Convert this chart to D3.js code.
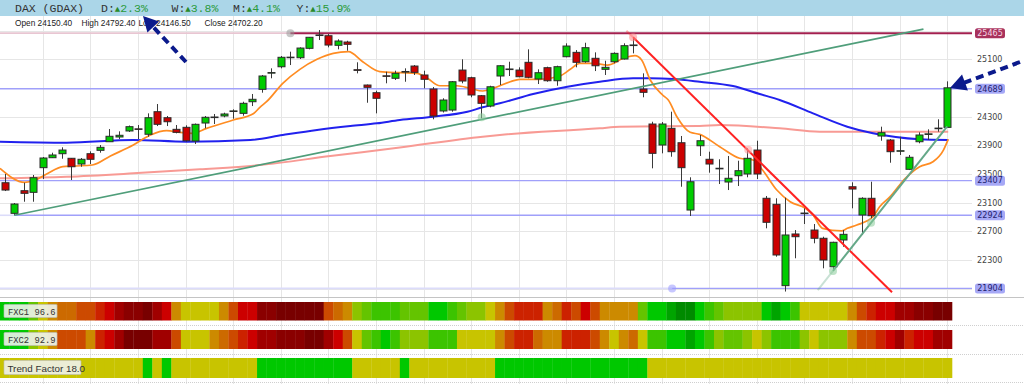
<!DOCTYPE html>
<html>
<head>
<meta charset="utf-8">
<script src="https://cdn.jsdelivr.net/npm/d3@7/dist/d3.min.js"></script>
<style>
  body { margin: 0; background: #fff; }
  svg { display: block; font-family: "Liberation Sans", Arial, sans-serif; }
  .grid-line { stroke: #e6e6e6; stroke-width: 1; shape-rendering: crispEdges; }
  .y-axis text { font-family: "DejaVu Sans", sans-serif; font-size: 8px; fill: #444; }
  .mono { font-family: "Liberation Mono", "DejaVu Sans Mono", monospace; }
</style>
</head>
<body>
<svg id="chart" width="1024" height="384"></svg>
<script>
// Daily candles, oldest first
const opens = [23378,22951,23267,23244,23588,23727,23783,23719,23639,23783,
  23830,23950,24016,24100,24130,24054,24369,24285,24123,24151,
  23960,24211,24290,24309,24375,24346,24508,24681,24910,24996,
  25125,25122,25253,25440,25429,25295,25341,24955,24741,24634,
  24870,24835,24925,25006,24881,24685,24379,24392,24950,24843,
  24592,24448,24867,24960,24950,25058,24825,24983,24801,25136,
  25197,25066,25114,24960,25066,25104,25295,24685,24197,23904,
  24137,23936,22997,23894,23705,23575,23388,23476,23500,23834,
  23161,23077,21942,22663,22950,22718,22603,22206,22579,23322,
  22928,23161,24030,23974,23820,23565,23950,24055,24135,24150.4];
const highs = [23500,23095,23378,23486,23737,23797,23872,23723,23723,23816,
  23904,24127,24095,24176,24183,24346,24476,24309,24183,24179,
  24204,24309,24337,24355,24402,24508,24616,24881,24974,25146,
  25206,25267,25410,25508,25453,25379,25359,25058,24748,24662,
  24927,24941,24974,25020,24941,24713,24556,24797,25100,24857,
  24602,24731,25020,25066,24988,25239,24960,24997,25011,25323,
  25229,25331,25197,25080,25197,25323,25407,24904,24229,24225,
  24369,24030,23454,24044,23811,23705,23751,23685,23858,23964,
  23193,23161,23169,22718,23021,22802,22625,22555,22718,23384,
  23175,23392,24160,23988,24020,23765,24081,24123,24263,24792.4];
const lows = [23262,22924,23113,23113,23430,23723,23713,23416,23601,23639,
  23797,23950,23988,24086,23988,24020,24169,24169,24067,23950,
  23918,24137,24197,24291,24271,24313,24448,24634,24835,24974,
  25020,25104,25239,25369,25267,25239,25220,24904,24494,24346,
  24765,24811,24787,24881,24695,24263,24358,24369,24765,24570,
  24277,24430,24741,24867,24849,24835,24755,24787,24731,25128,
  24988,25052,24936,24881,25044,25097,25183,24570,23579,23788,
  23741,23322,22914,23751,23518,23360,23276,23332,23454,23430,
  22742,22346,21860,22324,22802,22533,22184,22147,22485,23021,
  22649,22882,23964,23657,23765,23555,23928,23974,24090,24146.5];
const closes = [23276,23081,23230,23448,23723,23765,23834,23601,23705,23705,
  23872,24026,24040,24160,24125,24285,24193,24229,24081,23964,
  24193,24291,24295,24337,24380,24486,24542,24867,24915,25128,
  25130,25257,25407,25435,25299,25355,25309,24945,24709,24556,
  24865,24904,24930,24918,24821,24309,24532,24787,24797,24602,
  24486,24717,25010,24965,24857,24849,24913,24801,24997,25285,
  25058,25262,25010,24988,25183,25290,25300,24639,23788,24197,
  23811,23588,23392,23964,23639,23580,23440,23546,23719,23500,
  22826,22370,22649,22625,22955,22603,22300,22547,22658,23290,
  23161,22918,24076,23811,23825,23733,24044,24060,24140,24702.2];

// Moving averages (candle index, price)
const fastAt = [-0.5,2.1,3.2,4.4,6.1,7.2,9.2,11.1,13.5,15.3,17,18.4,19.7,21.2,24,26.1,26.8,27.5,29.2,31,
  32.8,34.5,36.1,37.6,39.4,41.5,43.3,44.4,45.7,47.5,48.9,50.2,51.3,53.1,54.1,56.2,58.3,59.4,60.4,61.8,
  63.3,65,66.2,66.9,67.8,69.1,69.7,70.6,72,73,75.1,77.2,78.6,79.6,81.1,82.5,84.1,84.9,85.9,87.9,
  88.5,89.5,91.2,91.9,93,94.6,96.1,97.5,98.6,99.1];
const fastMa = [23579,23384,23416,23500,23602,23611,23625,23751,23904,24044,24104,24081,24067,24137,24253,24340,24430,24508,24765,24960,
  25100,25183,25206,25066,24927,24913,24904,24835,24731,24731,24695,24658,24695,24787,24821,24821,24867,24960,25044,25044,
  25020,25114,25150,25090,24811,24602,24532,24299,24081,24053,23880,23719,23695,23555,23276,23113,23021,22928,22742,22705,
  22742,22788,22904,23044,23183,23440,23602,23671,23834,23984];
const slowAt = [-0.5,6.5,13.5,19.1,25.8,29.2,32.8,36.3,39.1,41.5,45,48.6,50.2,52,55.5,59.1,62.5,66,67.8,70.2,
  73,76.5,79.3,81.4,84.9,88.5,91.2,96.1,99.1];
const slowMa = [23950,23936,23974,23950,23974,24044,24114,24169,24207,24253,24299,24369,24430,24486,24616,24718,24787,24835,24835,24825,
  24787,24727,24616,24532,24346,24160,24067,23984,23974];
const longAt = [-0.5,6.5,13.5,20.5,26.8,34.2,41.5,50.2,52,62.5,64.6,73,75.1,81.4,85.6,91.2,99.1];
const longMa = [23440,23462,23509,23565,23625,23750,23870,24020,24044,24137,24160,24169,24183,24137,24090,24090,24090];

// Drawn trend lines (candle index, price)
const trendUpAt = [1, 96.5];
const trendUp = [22924, 25522];
const trendDownAt = [65.3, 66, 93.2];
const trendDown = [25499, 25407, 21850];
const trendUp2At = [85.4, 87, 99];
const trendUp2 = [21880, 22147, 24163];

// Horizontal levels and the candle where each one starts
const levelPrices = [25465, 24689, 23407, 22924, 21904];
const levelFrom = [30, -0.5, -0.5, 1, 70.1];

// Anchor dots on the drawn lines
const pivotAt = [30, 66, 78.1, 87, 91, 50.1, 70.1];
const pivotVal = [25465, 25407, 23838, 22147, 22819, 24290, 21904];

const gridPrices = [25500, 25100, 24700, 24300, 23900, 23500, 23100, 22700, 22300, 21900];
const tickPrices = [25100, 24700, 24300, 23900, 23500, 23100, 22700, 22300, 21900];

// Indicator strips, one colour level per candle (0 = dark red ... 14 = dark green)
const fxc1 = [12,12,12,10,8,7,6,6,5,5, 4,3,2,1,1,0,2,3,7,8, 8,8,8,7,5,3,3,1,1,0,
  0,0,0,0,5,6,7,9,10,11, 11,11,10,10,10,12,12,11,10,9, 9,8,7,5,4,4,4,7,6,4,
  5,3,5,7,7,7,7,10,12,12, 13,14,14,12,11,10,9,9,9,9, 12,13,12,11,8,8,8,8,8,7,
  5,4,3,3,2,2,1,1,0,0];
const fxc2 = [12,12,12,9,8,7,5,5,5,7, 4,3,2,0,0,0,2,2,5,8, 8,8,7,6,5,4,3,2,2,1,
  1,1,0,0,2,3,5,8,10,11, 12,11,9,9,9,11,11,11,8,8, 8,8,7,5,4,4,6,7,7,4,
  4,4,5,7,8,7,6,8,11,11, 12,12,13,12,11,9,10,10,9,8, 9,11,11,11,9,8,9,9,9,7,
  5,5,4,3,2,4,3,3,2,2];
const trendFactor = [8,8,8,8,8,8,8,8,8,8, 8,8,8,8,8,12,8,12,8,8, 8,8,8,8,8,8,8,12,12,12,
  12,12,12,12,12,12,12,8,8,8, 8,8,12,8,8,8,8,8,8,8, 8,8,12,12,12,12,12,12,12,12,
  12,12,12,12,12,12,12,12,8,8, 8,8,8,8,8,8,8,8,8,8, 8,8,8,8,8,8,8,8,8,8,
  8,8,8,8,8,8,8,8,8,8];
const stripNames = ['FXC1 96.6', 'FXC2 92.9', 'Trend Factor 18.0'];

const periods = ['D', 'W', 'M', 'Y'];
const periodChanges = [2.3, 3.8, 4.1, 15.9];
const ohlcNames = ['Open', 'High', 'Low', 'Close'];

const heatColors = ['#780000','#8a0000','#a00000','#cc0000','#cc2200','#cc4a00','#cc6a00','#cc8a00',
  '#c8c400','#8cc400','#64c400','#3cc400','#00c800','#00a400','#008a00'];

const svg = d3.select('#chart');
const x = d3.scaleLinear().domain([-0.5, 99.5]).range([0, 952]);
const y = d3.scaleLinear().domain([22300, 25100]).range([260, 59.3]);
const plotTop = 16, plotBottom = 297, plotRight = 972;

// Clip for everything inside the price pane
svg.append('clipPath').attr('id', 'pane')
  .append('rect').attr('x', 0).attr('y', plotTop).attr('width', plotRight).attr('height', plotBottom - plotTop);

// Vertical grid every 5 candles, through the strips too
svg.selectAll('.vgrid')
  .data(d3.range(4, 100, 5))
  .enter().append('line')
  .attr('class', 'grid-line')
  .attr('x1', d => Math.round(x(d)) + 0.5).attr('x2', d => Math.round(x(d)) + 0.5)
  .attr('y1', plotTop).attr('y2', 384);

// Horizontal grid
svg.selectAll('.hgrid')
  .data(gridPrices)
  .enter().append('line')
  .attr('class', 'grid-line')
  .attr('x1', 0).attr('x2', plotRight)
  .attr('y1', d => Math.round(y(d)) + 0.5).attr('y2', d => Math.round(y(d)) + 0.5);

const pane = svg.append('g').attr('clip-path', 'url(#pane)');

// Horizontal levels: faint before the anchor, solid after
levelPrices.forEach((p, k) => {
  const yy = y(p);
  const solid = k === 0 ? '#a3204f' : '#a0a0fa';
  const faint = k === 0 ? '#e8c6d2' : '#dcdcfa';
  pane.append('line').attr('x1', 0).attr('x2', x(levelFrom[k])).attr('y1', yy).attr('y2', yy)
    .attr('stroke', faint).attr('stroke-width', 1.6);
  pane.append('line').attr('x1', x(levelFrom[k])).attr('x2', plotRight).attr('y1', yy).attr('y2', yy)
    .attr('stroke', solid).attr('stroke-width', k === 0 ? 2 : 1.4);
});

// Moving averages
const maLine = d3.line().x(d => x(d[0])).y(d => y(d[1])).curve(d3.curveMonotoneX);
const drawMa = (at, vals, color, w) => {
  pane.append('path').datum(d3.zip(at, vals))
    .attr('d', maLine).attr('fill', 'none')
    .attr('stroke', color).attr('stroke-width', w);
};
drawMa(longAt, longMa, '#f89a94', 2);
drawMa(slowAt, slowMa, '#2121ee', 2);
drawMa(fastAt, fastMa, '#ff8c22', 1.7);

// Candles
const candles = d3.range(opens.length).map(i => ({ i, o: opens[i], h: highs[i], l: lows[i], c: closes[i] }));
pane.selectAll('.wick')
  .data(candles).enter().append('line')
  .attr('x1', d => Math.round(x(d.i)) + 0.5).attr('x2', d => Math.round(x(d.i)) + 0.5)
  .attr('y1', d => y(d.h)).attr('y2', d => y(d.l))
  .attr('stroke', '#3a3a3a').attr('stroke-width', 1);
pane.selectAll('.body')
  .data(candles).enter().append('rect')
  .attr('x', d => Math.round(x(d.i)) - 3)
  .attr('y', d => y(Math.max(d.o, d.c)))
  .attr('width', 7)
  .attr('height', d => Math.max(0.6, Math.abs(y(d.o) - y(d.c))))
  .attr('fill', d => d.c >= d.o ? '#00cc00' : '#cc0000')
  .attr('stroke', '#2b2b2b').attr('stroke-width', 1);

// Trend lines, first segment of the 3-point ones is the faint lead-in
const straight = d3.line().x(d => x(d[0])).y(d => y(d[1]));
pane.append('path').datum(d3.zip(trendUpAt, trendUp)).attr('d', straight)
  .attr('fill', 'none').attr('stroke', '#4f9e7a').attr('stroke-width', 1.7);
const drawTrend = (at, vals, color) => {
  const pts = d3.zip(at, vals);
  pane.append('path').datum(pts.slice(0, 2)).attr('d', straight)
    .attr('fill', 'none').attr('stroke', color).attr('stroke-width', 2).attr('opacity', 0.35);
  pane.append('path').datum(pts.slice(1)).attr('d', straight)
    .attr('fill', 'none').attr('stroke', color).attr('stroke-width', 2);
};
drawTrend(trendDownAt, trendDown, '#ff2222');
drawTrend(trendUp2At, trendUp2, '#64a888');

// Anchor dots
const dotColors = ['#999999', '#ff8888', '#ff9999', '#88cc99', '#88cc99', '#88cc99', '#9999ff'];
pivotAt.forEach((p, k) => {
  pane.append('circle').attr('cx', x(p)).attr('cy', y(pivotVal[k])).attr('r', 4)
    .attr('fill', dotColors[k]).attr('opacity', 0.55);
});

// Right price axis
svg.append('g')
  .attr('class', 'y-axis')
  .attr('transform', 'translate(975,0)')
  .call(d3.axisRight(y).tickValues(tickPrices).tickSize(0).tickPadding(2).tickFormat(d3.format('d')))
  .call(g => g.select('.domain').remove());

// Level price tags
levelPrices.forEach((p, k) => {
  svg.append('rect').attr('x', 975).attr('y', y(p) - 5).attr('width', 30).attr('height', 10).attr('rx', 2.5)
    .attr('fill', k === 0 ? '#a8325c' : '#a6a8f6');
  svg.append('text').attr('x', 990).attr('y', y(p)).attr('dy', '0.35em')
    .attr('text-anchor', 'middle')
    .style('font-family', '"DejaVu Sans", sans-serif').style('font-size', '8px')
    .attr('fill', k === 0 ? '#f6d8e4' : '#1e1e6e')
    .text(p);
});

// Pane bottom and strip separators
svg.append('line').attr('x1', 0).attr('x2', 1024).attr('y1', 297.5).attr('y2', 297.5)
  .attr('stroke', '#c4c4c4');
[325.5, 354.5, 382.5].forEach(yy => {
  svg.append('line').attr('x1', 0).attr('x2', 1024).attr('y1', yy).attr('y2', yy)
    .attr('stroke', '#cfcfcf').attr('stroke-dasharray', '1,1');
});

// Indicator strips
const strips = [fxc1, fxc2, trendFactor];
const stripTop = [302, 330, 358];
const stripH = [18.5, 19, 20];
strips.forEach((vals, r) => {
  svg.append('g').selectAll('rect')
    .data(vals).enter().append('rect')
    .attr('x', (d, i) => x(i - 0.5))
    .attr('y', stripTop[r])
    .attr('width', x(1) - x(0) + 0.3)
    .attr('height', stripH[r])
    .attr('fill', d => heatColors[d]);
  const isMono = r < 2;
  const lbl = svg.append('g');
  lbl.append('rect').attr('x', 4).attr('y', stripTop[r] + 2.5).attr('rx', 1)
    .attr('width', isMono ? 53 : 77).attr('height', isMono ? 13 : 14)
    .attr('fill', 'rgba(238,242,236,0.9)').attr('stroke', '#bcbcbc').attr('stroke-width', 0.6);
  lbl.append('text').attr('x', isMono ? 8 : 7.5).attr('y', stripTop[r] + (isMono ? 12.5 : 13.5))
    .attr('class', isMono ? 'mono' : null)
    .style('font-size', isMono ? '8.8px' : '9.8px')
    .attr('fill', '#333').text(stripNames[r]);
});

// Header band with period changes
svg.append('rect').attr('x', 0).attr('y', 0).attr('width', 1024).attr('height', 16).attr('fill', '#abd6e8');
svg.append('text').attr('class', 'mono').attr('x', 15).attr('y', 11.5)
  .style('font-size', '11.5px').attr('fill', '#333').text('DAX (GDAX)');
const periodX = [101, 171.5, 233, 296.5];
periods.forEach((p, k) => {
  const t = svg.append('text').attr('class', 'mono').attr('x', periodX[k]).attr('y', 11.5)
    .style('font-size', '11.5px');
  t.append('tspan').attr('fill', '#333').text(p + ':');
  t.append('tspan').attr('fill', '#2a8a2a').style('font-size', '9px').text('\u25B2');
  t.append('tspan').attr('fill', '#2a9a3a').text(periodChanges[k] + '%');
});

// OHLC line for the last candle
const last = candles[candles.length - 1];
const ohlcVals = [last.o, last.h, last.l, last.c];
const ohlcX = [15, 81.5, 138.5, 204.5];
ohlcNames.forEach((nm, k) => {
  svg.append('text').attr('x', ohlcX[k]).attr('y', 26)
    .style('font-size', '8.3px').attr('fill', '#222')
    .text(nm + ' ' + ohlcVals[k].toFixed(2));
});

// Dashed annotation arrows
function drawArrow(x1, y1, x2, y2, len, half) {
  const dx = x2 - x1, dy = y2 - y1, dist = Math.hypot(dx, dy);
  const ux = dx / dist, uy = dy / dist;
  const bx = x2 - ux * len, by = y2 - uy * len;
  svg.append('line').attr('x1', x1).attr('y1', y1).attr('x2', bx + ux * 2).attr('y2', by + uy * 2)
    .attr('stroke', '#0b1a8c').attr('stroke-width', 4).attr('stroke-dasharray', '8,5');
  svg.append('path')
    .attr('d', `M${x2},${y2}L${bx - uy * half},${by + ux * half}L${bx + uy * half},${by - ux * half}Z`)
    .attr('fill', '#0b1a8c');
}
drawArrow(186, 62, 143, 16, 15, 8);
drawArrow(1020, 62, 950, 88, 16, 8.5);
</script>
</body>
</html>
